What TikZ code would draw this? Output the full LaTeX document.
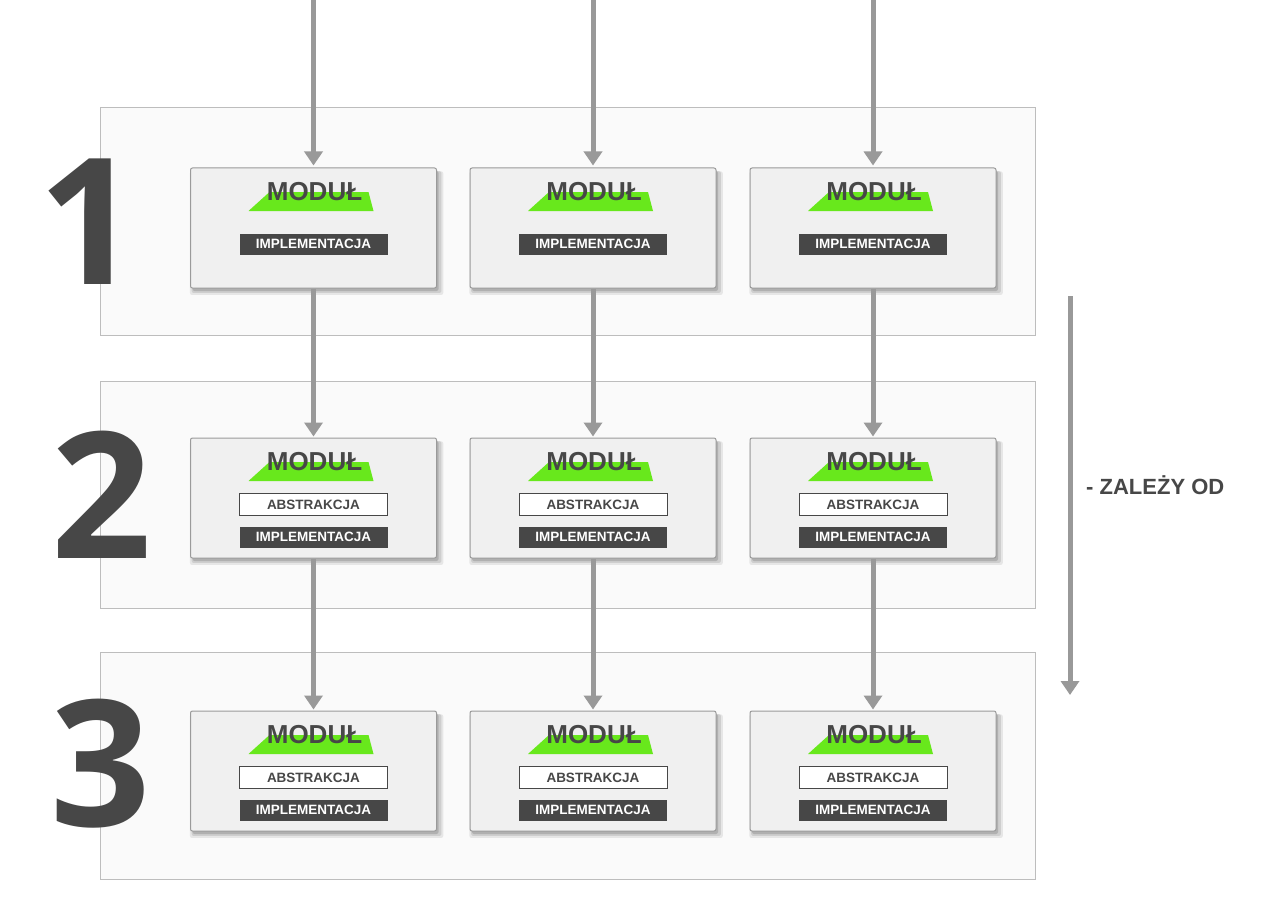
\documentclass[tikz,border=0pt]{standalone}
\usepackage{fontspec}
\setmainfont{Liberation Sans}
\newfontfamily\numfont{Open Sans}
\usetikzlibrary{arrows.meta,shadows,calc}
\definecolor{arrowgray}{HTML}{999999}
\definecolor{darktxt}{HTML}{474747}
\definecolor{modfill}{HTML}{F0F0F0}
\definecolor{modline}{HTML}{9A9A9A}
\definecolor{layerfill}{HTML}{FAFAFA}
\definecolor{layerline}{HTML}{BDBDBD}
\definecolor{limegreen}{RGB}{104,232,28}
\tikzset{
 layerbox/.style={draw=layerline, fill=layerfill, line width=1pt, minimum width=935pt, minimum height=227pt, inner sep=0pt},
 modbox/.style={draw=modline, fill=modfill, line width=1pt, rounded corners=2pt, minimum width=246pt, minimum height=120pt, inner sep=0pt,
   drop shadow={shadow xshift=3pt, shadow yshift=-5pt, shadow scale=1.03, opacity=0.08, fill=black},
   drop shadow={shadow xshift=3pt, shadow yshift=-4pt, shadow scale=1.015, opacity=0.1, fill=black},
   drop shadow={shadow xshift=2pt, shadow yshift=-3pt, shadow scale=1.0, opacity=0.14, fill=black}},
 implbar/.style={fill=darktxt, text=white, font=\bfseries\fontsize{13.5}{14}\selectfont, minimum width=148pt, minimum height=21pt, inner sep=0pt},
 absbox/.style={draw=darktxt, fill=white, line width=1pt, text=darktxt, font=\bfseries\fontsize{13.5}{14}\selectfont, minimum width=148pt, minimum height=22pt, inner sep=0pt},
 modtitle/.style={text=darktxt, font=\bfseries\fontsize{26}{28}\selectfont, inner sep=0pt},
 dep/.style={draw=arrowgray, line width=5pt, -{Triangle[width=18pt,length=14pt]}},
 bignum/.style={text=darktxt, font=\numfont\bfseries\fontsize{176}{176}\selectfont, inner sep=0pt},
 legend/.style={text=darktxt, font=\bfseries\fontsize{22}{24}\selectfont, inner sep=0pt}
}
\begin{document}
\begin{tikzpicture}[x=1pt,y=-1pt]
\useasboundingbox (0,0) rectangle (1280,915);
\fill[white] (0,0) rectangle (1280,915);
% layers
\node[layerbox] (L1) at (567.5,221.5) {};
\node[layerbox] (L2) at (567.5,494.5) {};
\node[layerbox] (L3) at (567.5,765.5) {};
% big numbers
\node[bignum] (n1) at (89,222) {1};
\node[bignum] (n2) at (102,495) {2};
\node[bignum] (n3) at (101,764) {3};
% modules
\foreach \c/\x in {1/313.5,2/593,3/873} {
 \foreach \r/\y in {1/228,2/498,3/771} {
  \node[modbox] (m-\r-\c) at (\x,\y) {};
  \begin{scope}[shift={(\x,\y)}]
   \fill[limegreen] (-65,-17) -- (-44,-36) -- (55,-36) -- (60,-17) -- cycle;
   \node[modtitle] (t-\r-\c) at (1,-36) {MODUŁ};
   \ifnum\r=1
    \node[implbar] (i-\r-\c) at (0,16) {IMPLEMENTACJA};
   \else
    \node[absbox] (a-\r-\c) at (0,6.5) {ABSTRAKCJA};
    \node[implbar] (i-\r-\c) at (0,39) {IMPLEMENTACJA};
   \fi
  \end{scope}
 }
}
% top free ends
\coordinate (top-1) at (313.5,0);
\coordinate (top-2) at (593,0);
\coordinate (top-3) at (873,0);
\foreach \c in {1,2,3} {
 \draw[dep, shorten >=2pt] (top-\c) -- (m-1-\c.north);
 \draw[dep, shorten >=1pt] (m-1-\c.south) -- (m-2-\c.north);
 \draw[dep, shorten >=1pt] (m-2-\c.south) -- (m-3-\c.north);
}
% legend
\coordinate (r1) at (1070,296);
\coordinate (r2) at (1070,695);
\draw[dep] (r1) -- (r2);
\node[legend, anchor=base west] (lg) at (1086,494) {- ZALEŻY OD};
\end{tikzpicture}
\end{document}
